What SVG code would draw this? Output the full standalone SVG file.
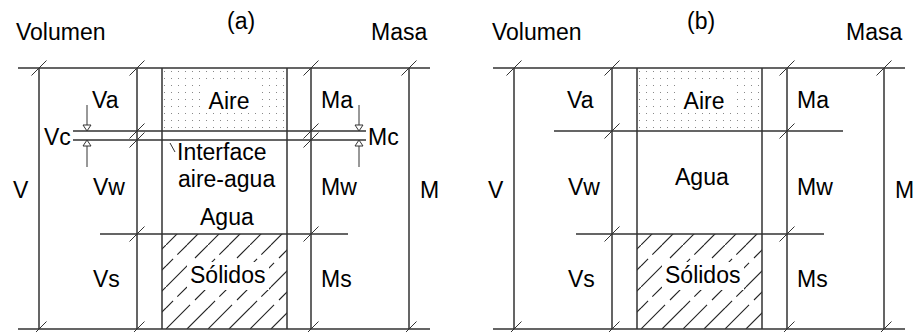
<svg xmlns="http://www.w3.org/2000/svg" xmlns:xlink="http://www.w3.org/1999/xlink" width="914" height="332" viewBox="0 0 914 332">
<style>
text{font-family:"Liberation Sans",Arial,sans-serif;font-size:23px;fill:#000}
.ln{stroke:#333;stroke-width:1.5;fill:none}
.tk{stroke:#333;stroke-width:1;fill:none}
.ar{stroke:#333;stroke-width:1;fill:#fff}
.bg{fill:#fff}
.hl{stroke:#222;stroke-width:1.1;fill:none}
</style>
<defs>
<pattern id="dots" patternUnits="userSpaceOnUse" x="161" y="68" width="7" height="7">
<rect x="3" y="3" width="1" height="1" fill="#888"/>
</pattern>
<pattern id="hatch" patternUnits="userSpaceOnUse" x="166" y="329" width="42" height="42">
<path class="hl" d="M0,42 L42,0" stroke-dasharray="34 7 18.4 0"/>
<path class="hl" d="M0,21 L21,0" stroke-dasharray="10 6 13.7 0"/>
<path class="hl" d="M21,42 L42,21" stroke-dasharray="29.7 0"/>
</pattern>
<path id="tk" class="tk" d="M-7.5,7.5 L7.5,-7.5"/>
</defs>
<rect width="914" height="332" fill="#fff"/>

<g id="panel-a">
<rect x="162" y="68" width="125" height="63" fill="url(#dots)"/>
<rect x="162" y="234" width="125" height="95" fill="url(#hatch)"/>
<rect class="bg" x="200" y="84" width="57" height="29"/>
<rect class="bg" x="187" y="262" width="82" height="28"/>
<g class="ln">
<path d="M18,68 H430 M18,329 H430 M73,131 H366 M73,140 H366 M100,234 H348"/>
<path d="M39,68 V329 M137,68 V329 M162,68 V329 M287,68 V329 M311,68 V329 M409,68 V329"/>
</g>
<g id="ticks-a">
<use xlink:href="#tk" x="39" y="68"/><use xlink:href="#tk" x="39" y="329"/>
<use xlink:href="#tk" x="137" y="68"/><use xlink:href="#tk" x="137" y="131"/><use xlink:href="#tk" x="137" y="140"/><use xlink:href="#tk" x="137" y="234"/><use xlink:href="#tk" x="137" y="329"/>
<use xlink:href="#tk" x="311" y="68"/><use xlink:href="#tk" x="311" y="131"/><use xlink:href="#tk" x="311" y="140"/><use xlink:href="#tk" x="311" y="234"/><use xlink:href="#tk" x="311" y="329"/>
<use xlink:href="#tk" x="409" y="68"/><use xlink:href="#tk" x="409" y="329"/>
</g>
<g id="arrows-a">
<path class="tk" d="M87,105 V131 M87,140 V167 M359,105 V131 M359,140 V167 M170,143 L175,152"/>
<path class="ar" d="M83,125 H91 L87,131 Z M83,146 H91 L87,140 Z M355,125 H363 L359,131 Z M355,146 H363 L359,140 Z"/>
</g>
<text x="16" y="40">Volumen</text>
<text x="227" y="29">(a)</text>
<text x="371" y="40">Masa</text>
<text x="92" y="108">Va</text>
<text x="229" y="109" text-anchor="middle">Aire</text>
<text x="321" y="108">Ma</text>
<text x="44" y="145">Vc</text>
<text x="368" y="145">Mc</text>
<text x="177" y="160">Interface</text>
<text x="178" y="187">aire-agua</text>
<text x="200" y="225">Agua</text>
<text x="13" y="198">V</text>
<text x="93" y="195">Vw</text>
<text x="321" y="195">Mw</text>
<text x="420" y="198">M</text>
<text x="93" y="287">Vs</text>
<text x="190" y="283">Sólidos</text>
<text x="321" y="287">Ms</text>
</g>

<g id="panel-b">
<g transform="translate(475,0)">
<rect x="162" y="68" width="125" height="63" fill="url(#dots)"/>
<rect x="162" y="234" width="125" height="95" fill="url(#hatch)"/>
<rect class="bg" x="200" y="84" width="57" height="29"/>
<rect class="bg" x="187" y="262" width="82" height="28"/>
</g>
<g class="ln">
<path d="M493,68 H905 M493,329 H905 M554,131 H843 M576,234 H824"/>
<path d="M514,68 V329 M612,68 V329 M637,68 V329 M762,68 V329 M787,68 V329 M884,68 V329"/>
</g>
<g id="ticks-b">
<use xlink:href="#tk" x="514" y="68"/><use xlink:href="#tk" x="514" y="329"/>
<use xlink:href="#tk" x="612" y="68"/><use xlink:href="#tk" x="612" y="131"/><use xlink:href="#tk" x="612" y="234"/><use xlink:href="#tk" x="612" y="329"/>
<use xlink:href="#tk" x="787" y="68"/><use xlink:href="#tk" x="787" y="131"/><use xlink:href="#tk" x="787" y="234"/><use xlink:href="#tk" x="787" y="329"/>
<use xlink:href="#tk" x="884" y="68"/><use xlink:href="#tk" x="884" y="329"/>
</g>
<text x="492" y="40">Volumen</text>
<text x="687" y="29">(b)</text>
<text x="846" y="40">Masa</text>
<text x="567" y="108">Va</text>
<text x="704" y="109" text-anchor="middle">Aire</text>
<text x="797" y="108">Ma</text>
<text x="488" y="198">V</text>
<text x="568" y="195">Vw</text>
<text x="675" y="185">Agua</text>
<text x="797" y="195">Mw</text>
<text x="895" y="198">M</text>
<text x="568" y="287">Vs</text>
<text x="665" y="283">Sólidos</text>
<text x="797" y="287">Ms</text>
</g>
</svg>
